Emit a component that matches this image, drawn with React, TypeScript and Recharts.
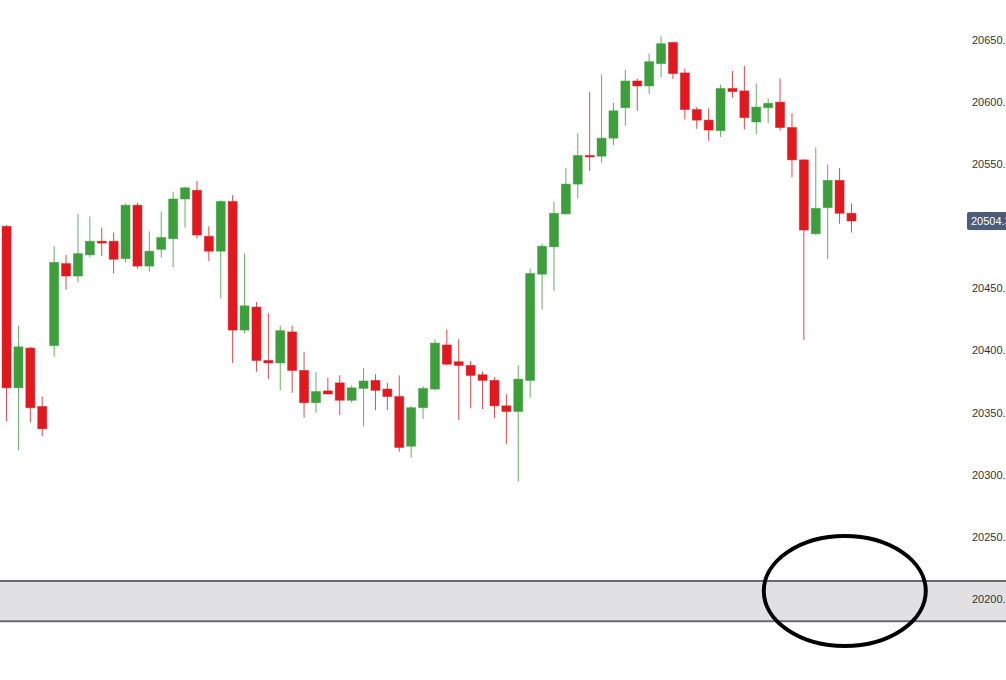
import { Bar, ComposedChart, ReferenceArea, ReferenceDot, ReferenceLine, XAxis, YAxis } from "recharts";

const OPEN = [
  20500, 20370, 20402, 20355, 20404, 20470, 20460, 20477, 20488, 20488, 20474, 20517,
  20468, 20481.5, 20490, 20522, 20529, 20492, 20480, 20520, 20416.5, 20435, 20392, 20390,
  20415, 20384, 20358, 20367.5, 20374, 20360, 20369.5, 20376, 20369, 20363, 20323, 20354,
  20369, 20404.5, 20391, 20388, 20380.5, 20376, 20355.5, 20351, 20376, 20461.5, 20483.5, 20510,
  20534, 20557, 20556.5, 20571, 20595.5, 20617, 20613, 20631, 20648, 20623.5, 20594, 20585.5,
  20577, 20611, 20609, 20584, 20595.5, 20600, 20579.5, 20553.5, 20494, 20515, 20537, 20510.5,
];
const HIGH = [
  20501, 20420, 20403, 20363, 20484, 20477, 20510, 20508, 20499, 20495, 20518.5, 20519,
  20496, 20512, 20528, 20532, 20536.5, 20500, 20521, 20525, 20478, 20439, 20430, 20420,
  20420, 20399, 20382.5, 20378, 20380, 20372, 20386, 20381, 20374, 20380, 20355.5, 20371.5,
  20409, 20417, 20409, 20391.5, 20383, 20378.5, 20365, 20388, 20466, 20486, 20520, 20547,
  20575, 20608, 20622, 20599.5, 20626, 20619, 20639, 20653, 20648.5, 20627, 20596, 20595,
  20614, 20625, 20629, 20615, 20603, 20619, 20591, 20554, 20563.5, 20550, 20547, 20518.5,
];
const LOW = [
  20343, 20320, 20342, 20331, 20395, 20449, 20455, 20475, 20476, 20462, 20471, 20466,
  20463.5, 20475, 20467, 20499, 20490, 20472, 20442, 20390, 20414, 20383, 20377, 20368,
  20366, 20346, 20350, 20365, 20348, 20358, 20339, 20352, 20352, 20318.5, 20314, 20345,
  20368, 20388, 20344, 20353.5, 20353, 20345.5, 20324.5, 20294.5, 20362, 20433, 20448, 20509.5,
  20522.5, 20544.5, 20551, 20565.5, 20581, 20593, 20606.5, 20620, 20618.5, 20586, 20578.5, 20569,
  20572, 20603.5, 20578, 20574, 20583, 20577, 20539.5, 20408.5, 20493, 20473.5, 20502, 20495,
];
const CLOSE = [
  20370, 20403, 20354, 20337, 20471, 20460, 20478, 20488, 20486.5, 20473.5, 20517, 20468,
  20480, 20491, 20522, 20531, 20493, 20480, 20520, 20416.5, 20436, 20392, 20390, 20416,
  20384, 20358, 20367, 20365, 20360, 20370, 20375.5, 20368, 20363, 20322, 20354, 20369.5,
  20406, 20389, 20388, 20380, 20376, 20355.5, 20351, 20377, 20462, 20484, 20510.5, 20534,
  20557, 20556, 20571, 20593, 20617, 20613, 20632.5, 20647, 20623, 20594, 20585.5, 20577.5,
  20611, 20608.5, 20587.5, 20596, 20599, 20579.5, 20553.5, 20497, 20514.5, 20537, 20510.5, 20504.3,
];

// 20500 sits under the last-price tag, so it is not listed
const Y_TICKS = [20200, 20250, 20300, 20350, 20400, 20450, 20550, 20600, 20650];
const LAST_PRICE = 20504.3;
const ZONE = [20182, 20214.5];
const MARK = { x: 70.4, y: 20206.4 };

const UP = "#3c9f3c";
const DOWN = "#e0191f";

const candles = OPEN.map((open, i) => ({
  i,
  open,
  high: HIGH[i],
  low: LOW[i],
  close: CLOSE[i],
}));

function Candle(props: any) {
  const { x, y, width, height } = props;
  const d = props.payload ?? props;
  const top = Math.min(y, y + height);
  const h = Math.abs(height);
  const ratio = h / (d.high - d.low || 1);
  const color = d.close >= d.open ? UP : DOWN;
  const bodyTop = top + (d.high - Math.max(d.open, d.close)) * ratio;
  const bodyH = Math.max(1.5, Math.abs(d.open - d.close) * ratio);
  const cx = x + width / 2;
  return (
    <g>
      <line x1={cx} x2={cx} y1={top} y2={top + h} stroke={color} strokeWidth={1} strokeOpacity={0.8} />
      <rect x={x} y={bodyTop} width={width} height={bodyH} fill={color} stroke={color} strokeOpacity={0.6} strokeWidth={0.8} />
    </g>
  );
}

function PriceTag(props: any) {
  const { viewBox } = props;
  const bx = viewBox.x + viewBox.width + 5;
  return (
    <g>
      <rect x={bx} y={viewBox.y - 9} width={56} height={18} rx={2} fill="#4a5d79" />
      <text x={bx + 4} y={viewBox.y + 4} fill="#fff" fontSize={11} fontFamily="Liberation Sans, Arial, sans-serif">
        {LAST_PRICE.toFixed(2)}
      </text>
    </g>
  );
}

export default function App() {
  return (
    <div style={{ position: "fixed", top: 0, left: 0, width: 1006, height: 680, overflow: "hidden", background: "#fff" }}>
      <ComposedChart width={1006} height={680} data={candles} margin={{ top: 0, right: 0, bottom: 0, left: 0 }}>
        <XAxis type="number" dataKey="i" domain={[-0.588, 80.25]} hide />
        <YAxis
          orientation="right"
          domain={[20134.8, 20682.2]}
          ticks={Y_TICKS}
          width={44}
          axisLine={false}
          tickLine={false}
          tickMargin={4}
          tickFormatter={(v) => v.toFixed(2)}
          tick={{ fill: "#333", fontSize: 11, fontFamily: "Liberation Sans, Arial, sans-serif", textAnchor: "start" }}
          allowDataOverflow
        />
        <ReferenceArea
          x1={-5}
          x2={95}
          y1={ZONE[0]}
          y2={ZONE[1]}
          fill="#e1e1e4"
          fillOpacity={1}
          stroke="#6a6a6a"
          strokeWidth={2}
          ifOverflow="visible"
        />
        <Bar
          dataKey={(d: any) => [d.low, d.high]}
          barSize={9}
          shape={Candle}
          isAnimationActive={false}
        />
        <ReferenceLine y={LAST_PRICE} stroke="none" label={<PriceTag />} />
        <ReferenceDot
          x={MARK.x}
          y={MARK.y}
          shape={(p: any) => (
            <ellipse cx={p.cx} cy={p.cy} rx={81} ry={55} fill="none" stroke="#000" strokeWidth={4} />
          )}
        />
      </ComposedChart>
    </div>
  );
}
